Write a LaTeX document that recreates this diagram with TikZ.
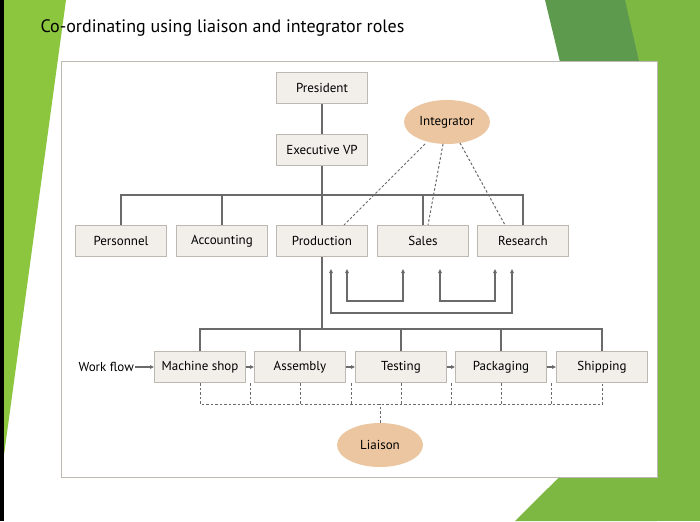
\documentclass[tikz,border=0pt]{standalone}
\usepackage{fontspec}
\setmainfont{PT Sans}
\usetikzlibrary{arrows.meta,shapes.geometric}
\definecolor{boxfill}{HTML}{F2EFEB}
\definecolor{boxline}{HTML}{BDB8B2}
\definecolor{lnc}{HTML}{6A6A6A}
\definecolor{ovl}{HTML}{EBC6A0}
\definecolor{gA}{HTML}{8CC63F}
\definecolor{gB}{HTML}{5E9A4E}
\definecolor{gC}{HTML}{7DB843}
\tikzset{
 orgbox/.style={draw=boxline,fill=boxfill,line width=1pt,minimum width=91pt,minimum height=31pt,font=\fontsize{13}{15}\selectfont,inner sep=0pt},
 role/.style={ellipse,fill=ovl,minimum width=86pt,minimum height=44pt,font=\fontsize{13}{15}\selectfont,inner sep=0pt},
 solidln/.style={draw=lnc,line width=1.3pt},
 dashln/.style={draw=lnc,line width=1pt,dash pattern=on 2.5pt off 2pt},
 arr/.style={solidln,-{Triangle[length=4pt,width=3.5pt]}},
}
\begin{document}
\begin{tikzpicture}[x=1pt,y=-1pt]
\useasboundingbox (0,0) rectangle (700,521);
\fill[white] (0,0) rectangle (700,521);
\fill[gA] (4,0) -- (66,0) -- (4,455) -- cycle;
\fill[black] (0,0) rectangle (4,521);
\fill[gC] (622,0) rectangle (700,521);
\fill[gC] (657,380) -- (657,521) -- (515,521) -- cycle;
\fill[gB] (545,0) -- (625,0) -- (657,140) -- (560,62) -- cycle;
\node[anchor=west,font=\fontsize{18}{21}\selectfont] (title) at (37,28) {Co-ordinating using liaison and integrator roles};
\node[draw=boxline,fill=white,line width=1pt,minimum width=596pt,minimum height=415pt,inner sep=0pt] (panel) at (359,269.5) {};
% nodes
\node[orgbox] (pres) at (322,88) {President};
\node[orgbox] (evp) at (322,150) {Executive VP};
\node[orgbox] (pers) at (121,241) {Personnel};
\node[orgbox] (acc) at (222,241) {Accounting};
\node[orgbox] (prod) at (322,241) {Production};
\node[orgbox] (sales) at (423,241) {Sales};
\node[orgbox] (res) at (523,241) {Research};
\node[orgbox] (mach) at (200,367) {Machine shop};
\node[orgbox] (asm) at (300,367) {Assembly};
\node[orgbox] (test) at (401,367) {Testing};
\node[orgbox] (pack) at (501,367) {Packaging};
\node[orgbox] (ship) at (602,367) {Shipping};
\node[role] (integ) at (447,122) {Integrator};
\node[role] (liai) at (380,445) {Liaison};
\node[font=\fontsize{13}{15}\selectfont,anchor=east,inner sep=1pt] (wf) at (135,367) {Work flow};
% tree
\draw[solidln] (pres) -- (evp);
\draw[solidln] (evp.south) -- (prod.north);
\draw[solidln] (pers.north) |- (322,195) -| (res.north);
\draw[solidln] (acc.north) -- (acc.north|-0,195);
\draw[solidln] (sales.north) -- (sales.north|-0,195);
\draw[solidln] (prod.south) -- (322,329);
\draw[solidln] (mach.north) |- (322,329) -| (ship.north);
\foreach \n in {asm,test,pack} \draw[solidln] (\n.north) -- (\n.north|-0,329);
% work flow
\draw[arr] (wf.east) -- (mach.west);
\draw[arr] (mach) -- (asm);
\draw[arr] (asm) -- (test);
\draw[arr] (test) -- (pack);
\draw[arr] (pack) -- (ship);
% coordination loops
\coordinate (la) at (331,269); \coordinate (lb) at (512,269);
\coordinate (lc) at (347,269); \coordinate (ld) at (403,269);
\coordinate (le) at (440,269); \coordinate (lf) at (495,269);
\draw[arr,{Triangle[length=4pt,width=3.5pt]}-{Triangle[length=4pt,width=3.5pt]}] (la) -- (331,313) -- (512,313) -- (lb);
\draw[arr,{Triangle[length=4pt,width=3.5pt]}-{Triangle[length=4pt,width=3.5pt]}] (lc) -- (347,301) -- (403,301) -- (ld);
\draw[arr,{Triangle[length=4pt,width=3.5pt]}-{Triangle[length=4pt,width=3.5pt]}] (le) -- (440,301) -- (495,301) -- (lf);
% integrator
\draw[dashln] (425,144) -- ([xshift=22pt]prod.north);
\draw[dashln] (443,144) -- ([xshift=5pt]sales.north);
\draw[dashln] (460,143) -- ([xshift=-18pt]res.north);
% liaison
\draw[dashln] (200,383) -- (200,404) -- (602,404) -- (602,383);
\foreach \x in {250,300,351,401,451,501,551} \draw[dashln] (\x,383) -- (\x,404);
\draw[dashln] (liai.north) -- (380,404);
\end{tikzpicture}
\end{document}
